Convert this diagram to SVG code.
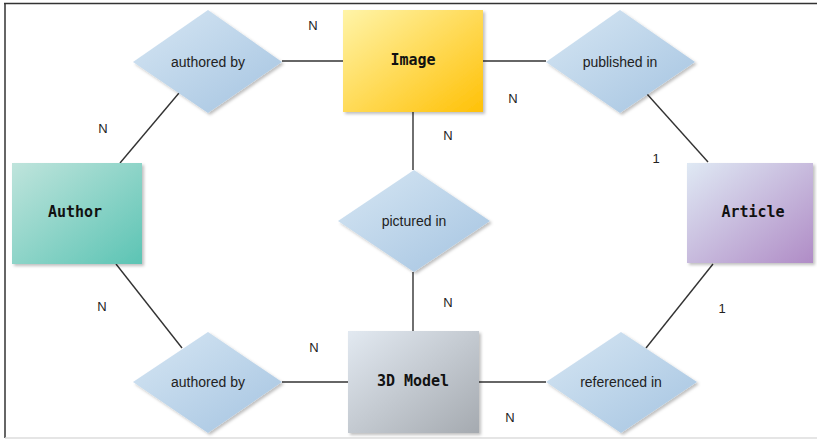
<svg xmlns="http://www.w3.org/2000/svg" width="817" height="439" viewBox="0 0 817 439">
<style>
.lbl{font-family:"Liberation Sans",Arial,sans-serif;font-size:14px;fill:#222;text-anchor:middle;dominant-baseline:central}
.ent{font-family:"DejaVu Sans Mono","Liberation Mono",monospace;font-size:15px;font-weight:bold;fill:#111;text-anchor:middle;dominant-baseline:central}
.card{font-family:"Liberation Sans",Arial,sans-serif;font-size:13px;fill:#222;text-anchor:middle;dominant-baseline:central}
.con line{stroke:#333;stroke-width:1.4}
.dia{fill:url(#gDia);filter:url(#sh)}
</style>
<defs>
<linearGradient id="gDia" x1="0" y1="0" x2="1" y2="1"><stop offset="0" stop-color="#d6e6f3"/><stop offset="1" stop-color="#a5c4e1"/></linearGradient>
<linearGradient id="gImg" x1="0" y1="0" x2="1" y2="1"><stop offset="0" stop-color="#fff4a8"/><stop offset="1" stop-color="#ffc107"/></linearGradient>
<linearGradient id="gAut" x1="0" y1="0" x2="1" y2="1"><stop offset="0" stop-color="#bfe4dc"/><stop offset="1" stop-color="#5cc4b4"/></linearGradient>
<linearGradient id="gArt" x1="0" y1="0" x2="1" y2="1"><stop offset="0" stop-color="#dfe9f4"/><stop offset="1" stop-color="#b08cc6"/></linearGradient>
<linearGradient id="gMod" x1="0" y1="0" x2="1" y2="1"><stop offset="0" stop-color="#e2e9f1"/><stop offset="1" stop-color="#a5aab0"/></linearGradient>
<filter id="sh" x="-10%" y="-10%" width="130%" height="130%"><feDropShadow dx="2" dy="2" stdDeviation="1.5" flood-color="#000" flood-opacity="0.25"/></filter>
</defs>
<rect width="817" height="439" fill="#fff"/>
<line x1="4" y1="3.5" x2="817" y2="3.5" stroke="#333" stroke-width="1.5"/>
<line x1="5" y1="3" x2="5" y2="438" stroke="#333" stroke-width="1.5"/>
<line x1="5" y1="438" x2="817" y2="438" stroke="#ddd" stroke-width="1.5"/>
<g id="connectors" class="con">
<line x1="282" y1="61" x2="343" y2="61"/>
<line x1="483" y1="61" x2="546" y2="61"/>
<line x1="413" y1="112" x2="413" y2="170"/>
<line x1="413" y1="272" x2="413" y2="331"/>
<line x1="282" y1="382" x2="348" y2="382"/>
<line x1="479" y1="382" x2="546" y2="382"/>
<line x1="179" y1="93" x2="120" y2="163"/>
<line x1="116" y1="264" x2="182" y2="348"/>
<line x1="647" y1="94" x2="708" y2="162"/>
<line x1="713" y1="264" x2="646" y2="348"/>
</g>
<g id="image"><rect x="343" y="10" width="140" height="102" fill="url(#gImg)" filter="url(#sh)"/><text class="ent" x="413" y="60">Image</text></g>
<g id="author"><rect x="12" y="163" width="130" height="101" fill="url(#gAut)" filter="url(#sh)"/><text class="ent" x="75" y="212">Author</text></g>
<g id="article"><rect x="687" y="163" width="126" height="100" fill="url(#gArt)" filter="url(#sh)"/><text class="ent" x="753" y="212">Article</text></g>
<g id="model3d"><rect x="348" y="331" width="131" height="102" fill="url(#gMod)" filter="url(#sh)"/><text class="ent" x="413" y="381">3D Model</text></g>
<g id="authoredBy1"><polygon class="dia" points="208,10 282,62 208,113 133,62"/><text class="lbl" x="208" y="62">authored by</text></g>
<g id="publishedIn"><polygon class="dia" points="620,10 695,62 620,113 546,62"/><text class="lbl" x="620" y="62">published in</text></g>
<g id="picturedIn"><polygon class="dia" points="414,170 490,221 414,272 338,221"/><text class="lbl" x="414" y="221">pictured in</text></g>
<g id="authoredBy2"><polygon class="dia" points="208,332 282,382 208,433 133,382"/><text class="lbl" x="208" y="382">authored by</text></g>
<g id="referencedIn"><polygon class="dia" points="621,332 697,382 621,433 546,382"/><text class="lbl" x="621" y="382">referenced in</text></g>
<g id="cardinalities">
<text class="card" x="313" y="25">N</text>
<text class="card" x="513" y="98">N</text>
<text class="card" x="448" y="135">N</text>
<text class="card" x="103" y="128">N</text>
<text class="card" x="656" y="158">1</text>
<text class="card" x="102" y="306">N</text>
<text class="card" x="448" y="302">N</text>
<text class="card" x="314" y="347">N</text>
<text class="card" x="722" y="308">1</text>
<text class="card" x="510" y="417">N</text>
</g>
</svg>
